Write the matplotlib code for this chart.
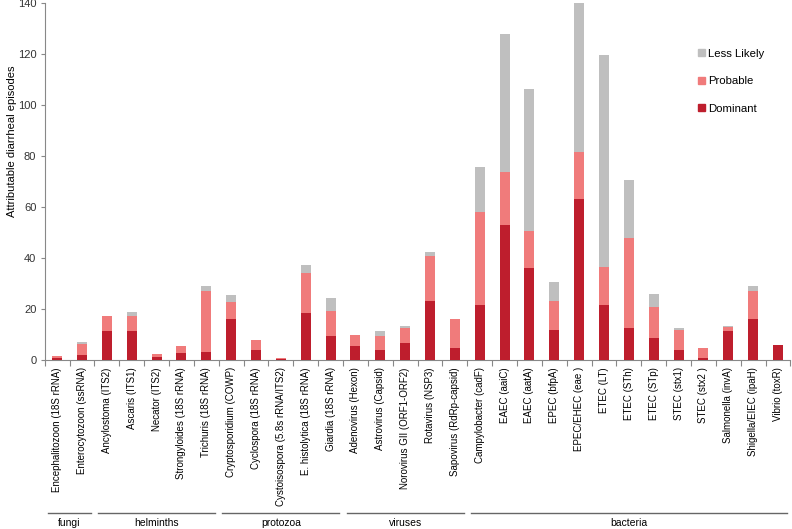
import matplotlib
matplotlib.use("Agg")
import matplotlib.pyplot as plt
import matplotlib.transforms as mtransforms
from matplotlib.patches import Patch
import numpy as np

plt.rcParams['font.family'] = ['Liberation Sans', 'DejaVu Sans']

categories = [
    "Encephalitozoon (18S rRNA)", "Enterocytozoon (ssRNA)",
    "Ancylostoma (ITS2)", "Ascaris (ITS1)", "Necator (ITS2)",
    "Strongyloides (18S rRNA)", "Trichuris (18S rRNA)",
    "Cryptosporidium (COWP)", "Cyclospora (18S rRNA)",
    "Cystoisospora (5.8s rRNA/ITS2)", "E. histolytica (18S rRNA)",
    "Giardia (18S rRNA)",
    "Adenovirus (Hexon)", "Astrovirus (Capsid)", "Norovirus GII (ORF1-ORF2)",
    "Rotavirus (NSP3)", "Sapovirus (RdRp-capsid)",
    "Campylobacter (cadF)", "EAEC (aaiC)", "EAEC (aatA)", "EPEC (bfpA)",
    "EPEC/EHEC (eae )", "ETEC (LT)", "ETEC (STh)", "ETEC (STp)",
    "STEC (stx1)", "STEC (stx2 )", "Salmonella (invA)",
    "Shigella/EIEC (ipaH)", "Vibrio (toxR)",
]

# cumulative top values
dominant_top = [1.0, 2.1, 11.6, 11.6, 1.4, 2.7, 3.4, 16.2, 4.0, 0.3,
                18.5, 9.6, 5.4, 4.0, 6.9, 23.4, 4.7,
                21.5, 53.2, 36.2, 11.9, 63.3, 21.5, 12.7, 8.9, 4.2, 0.8, 11.6, 16.1, 6.0]
probable_top = [1.7, 6.4, 17.4, 17.4, 2.5, 5.4, 27.2, 23.0, 8.0, 0.8,
                34.2, 19.5, 9.9, 9.7, 12.8, 40.7, 16.2,
                58.0, 73.9, 50.6, 23.4, 81.6, 36.6, 47.8, 20.8, 12.0, 4.7, 13.1, 27.0, 6.0]
less_likely_top = [1.7, 7.2, 17.4, 18.9, 2.5, 5.4, 29.3, 25.4, 8.0, 0.8,
                   37.4, 24.4, 9.9, 11.5, 13.6, 42.5, 16.2,
                   75.9, 127.9, 106.3, 30.8, 140.0, 119.7, 70.5, 25.8, 12.8, 4.7, 13.6, 29.3, 6.0]

groups = ["fungi", "helminths", "protozoa", "viruses", "bacteria"]
group_sizes = [2, 5, 5, 5, 13]

c_dom = "#BE1E2D"
c_prob = "#F07B7B"
c_less = "#BFBFBF"

dominant = np.array(dominant_top)
probable = np.array(probable_top) - dominant
less = np.array(less_likely_top) - np.array(probable_top)

fig = plt.figure(figsize=(7.92, 5.29), dpi=100)
ax = fig.add_axes([0.0564, 0.319, 0.9416, 0.6748])

x = np.arange(len(categories))
w = 0.4
ax.bar(x, dominant, w, color=c_dom, label="Dominant", zorder=3)
ax.bar(x, probable, w, bottom=dominant, color=c_prob, label="Probable", zorder=3)
ax.bar(x, less, w, bottom=dominant + probable, color=c_less, label="Less Likely", zorder=3)

ax.set_xlim(-0.5, len(categories) - 0.5)
ax.set_ylim(0, 140)
ax.set_yticks(np.arange(0, 141, 20))
ax.tick_params(axis='y', labelsize=8, length=3, color="#888888", width=0.8, pad=3,
               labelcolor="#333333")
ax.set_ylabel("Attributable diarrheal episodes", fontsize=8)
ax.yaxis.set_label_coords(-0.037, 0.614)

ax.set_xticks(x)
ax.set_xticklabels(categories, rotation=90, fontsize=7.0)
ax.tick_params(axis='x', which='major', length=0, pad=5)
ax.set_xticks(np.arange(-0.5, len(categories), 1.0), minor=True)
ax.tick_params(axis='x', which='minor', length=4, color="#888888", width=0.8)

for s in ["top", "right"]:
    ax.spines[s].set_visible(False)
for s in ["left", "bottom"]:
    ax.spines[s].set_color("#888888")
    ax.spines[s].set_linewidth(0.8)

handles = [Patch(color=c_less, label="Less Likely"),
           Patch(color=c_prob, label="Probable"),
           Patch(color=c_dom, label="Dominant")]
leg = ax.legend(handles=handles, loc="upper left", bbox_to_anchor=(0.862, 0.902),
                frameon=False, fontsize=8.2, handlelength=0.6, handleheight=0.6,
                handletextpad=0.3, labelspacing=1.55)

trans = mtransforms.blended_transform_factory(ax.transData, fig.transFigure)
start = 0
for g, n in zip(groups, group_sizes):
    x0 = start - 0.5 + 0.15
    x1 = start + n - 1 + 0.5 - 0.15
    ax.plot([x0, x1], [0.030, 0.030], transform=trans, color="#666666",
            lw=1.0, clip_on=False)
    ax.text((x0 + x1) / 2, 0.012, g, transform=trans, ha="center", va="center",
            fontsize=7.5)
    start += n

fig.savefig("out.png", dpi=100)
